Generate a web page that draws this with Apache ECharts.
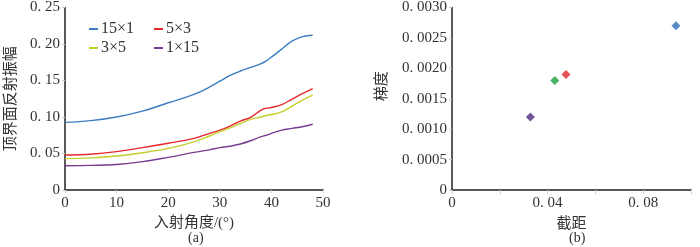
<!DOCTYPE html>
<html>
<head>
<meta charset="utf-8">
<script src="https://cdn.jsdelivr.net/npm/echarts@6/dist/echarts.min.js"></script>
<style>
  html, body { margin: 0; padding: 0; background: #fff; }
  #main { width: 700px; height: 247px; }
</style>
</head>
<body>
<div id="main"></div>
<script>
// (a) incidence angle vs amplitude
const angles = [0, 5, 10, 15, 20, 25, 28, 30, 32, 34, 36, 38, 39, 40, 42, 44, 46, 48];
const amp15x1 = [0.0926, 0.095, 0.100, 0.108, 0.1195, 0.131, 0.141, 0.149, 0.157, 0.163, 0.168, 0.173, 0.177, 0.182, 0.193, 0.204, 0.210, 0.212];
const amp5x3 = [0.0479, 0.049, 0.0525, 0.058, 0.064, 0.0707, 0.0776, 0.082, 0.0876, 0.0944, 0.0995, 0.1095, 0.112, 0.113, 0.117, 0.1245, 0.132, 0.139];
const amp3x5 = [0.043, 0.044, 0.0465, 0.051, 0.057, 0.066, 0.074, 0.080, 0.085, 0.091, 0.0967, 0.100, 0.102, 0.1035, 0.107, 0.115, 0.123, 0.130];
const amp1x15 = [0.0333, 0.0338, 0.035, 0.0388, 0.0447, 0.0515, 0.055, 0.058, 0.060, 0.063, 0.0675, 0.073, 0.075, 0.0776, 0.082, 0.0844, 0.0867, 0.090];

// (b) intercept vs gradient
const intercepts = [0.0937, 0.0477, 0.043, 0.0328];
const gradients = [0.0027, 0.0019, 0.0018, 0.0012];
const pointColors = ['#2a6db5', '#e0262a', '#17a03a', '#4f2a80'];

const fontFam = "'Liberation Serif', 'Noto Sans CJK SC', serif";
const txt = '#333';

const spaced = v => String(v).replace('.', '. ');

function mk(x) { return angles.map((a, i) => [a, x[i]]); }

const chart = echarts.init(document.getElementById('main'));

const lineSeries = (name, data, color) => ({
    name: name,
    type: 'line',
    xAxisIndex: 0,
    yAxisIndex: 0,
    data: mk(data),
    smooth: 0.4,
    showSymbol: false,
    lineStyle: { color: color, width: 1.4 },
    itemStyle: { color: color }
});

const legendBase = {
    orient: 'vertical',
    top: 16,
    itemWidth: 9, itemHeight: 2, itemGap: 3,
    icon: 'rect',
    textStyle: { fontFamily: fontFam, fontSize: 16, color: txt, padding: [0, 0, 0, -2] }
};

const option = {
    animation: false,
    textStyle: { fontFamily: fontFam },
    grid: [
        { left: 65, top: 7, width: 258, height: 183 },
        { left: 452, top: 7, width: 239, height: 183 }
    ],
    legend: [
        Object.assign({ data: ['15×1', '3×5'], left: 84 }, legendBase),
        Object.assign({ data: ['5×3', '1×15'], left: 149 }, legendBase)
    ],
    graphic: [
        { type: 'text', left: 188, top: 231, style: { text: '(a)', font: "14px " + fontFam, fill: txt } },
        { type: 'text', left: 569, top: 231, style: { text: '(b)', font: "14px " + fontFam, fill: txt } }
    ],
    xAxis: [
        {
            gridIndex: 0, type: 'value', min: 0, max: 50, interval: 10,
            name: '入射角度/(°)', nameLocation: 'middle', nameGap: 23,
            nameTextStyle: { fontSize: 15, color: txt, fontFamily: fontFam },
            axisLine: { lineStyle: { color: '#222', width: 1.5 } },
            axisTick: { show: true, length: 3, lineStyle: { color: '#ccc' } },
            axisLabel: { fontSize: 15, color: txt, margin: 6 },
            splitLine: { show: false }
        },
        {
            gridIndex: 1, type: 'value', min: 0, max: 0.1, interval: 0.02,
            name: '截距', nameLocation: 'middle', nameGap: 27,
            nameTextStyle: { fontSize: 15, color: txt, fontFamily: fontFam },
            axisLine: { lineStyle: { color: '#222', width: 1.5 } },
            axisTick: { show: true, length: 4, lineStyle: { color: '#ccc' } },
            axisLabel: {
                fontSize: 15, color: txt, margin: 6,
                formatter: v => (Math.round(v * 100) % 4 === 0 ? spaced(+v.toFixed(2)) : '')
            },
            splitLine: { show: false }
        }
    ],
    yAxis: [
        {
            gridIndex: 0, type: 'value', min: 0, max: 0.25, interval: 0.05,
            name: '顶界面反射振幅', nameLocation: 'middle', nameGap: 46,
            nameTextStyle: { fontSize: 15, color: txt, fontFamily: fontFam },
            axisLine: { show: true, lineStyle: { color: '#222', width: 1.5 } },
            axisTick: { show: true, length: 3, lineStyle: { color: '#ccc' } },
            axisLabel: {
                fontSize: 15, color: txt, margin: 5,
                formatter: v => (v === 0 ? '0' : spaced(v.toFixed(2)))
            },
            splitLine: { show: false }
        },
        {
            gridIndex: 1, type: 'value', min: 0, max: 0.003, interval: 0.0005,
            name: '梯度', nameLocation: 'middle', nameGap: 62,
            nameTextStyle: { fontSize: 15, color: txt, fontFamily: fontFam, padding: [0, 0, 0, 25] },
            axisLine: { show: true, lineStyle: { color: '#222', width: 1.5 } },
            axisTick: { show: true, length: 3, lineStyle: { color: '#ccc' } },
            axisLabel: {
                fontSize: 15, color: txt, margin: 5,
                formatter: v => (v === 0 ? '0' : spaced(v.toFixed(4)))
            },
            splitLine: { show: false }
        }
    ],
    series: [
        lineSeries('15×1', amp15x1, '#3b7dc0'),
        lineSeries('5×3', amp5x3, '#e6282c'),
        lineSeries('3×5', amp3x5, '#c3cf2c'),
        lineSeries('1×15', amp1x15, '#7a3c90'),
        {
            type: 'scatter',
            xAxisIndex: 1,
            yAxisIndex: 1,
            symbol: 'diamond',
            symbolSize: 9,
            data: intercepts.map((x, i) => ({ value: [x, gradients[i]], itemStyle: { color: pointColors[i] } }))
        }
    ]
};

chart.setOption(option);
</script>
</body>
</html>
